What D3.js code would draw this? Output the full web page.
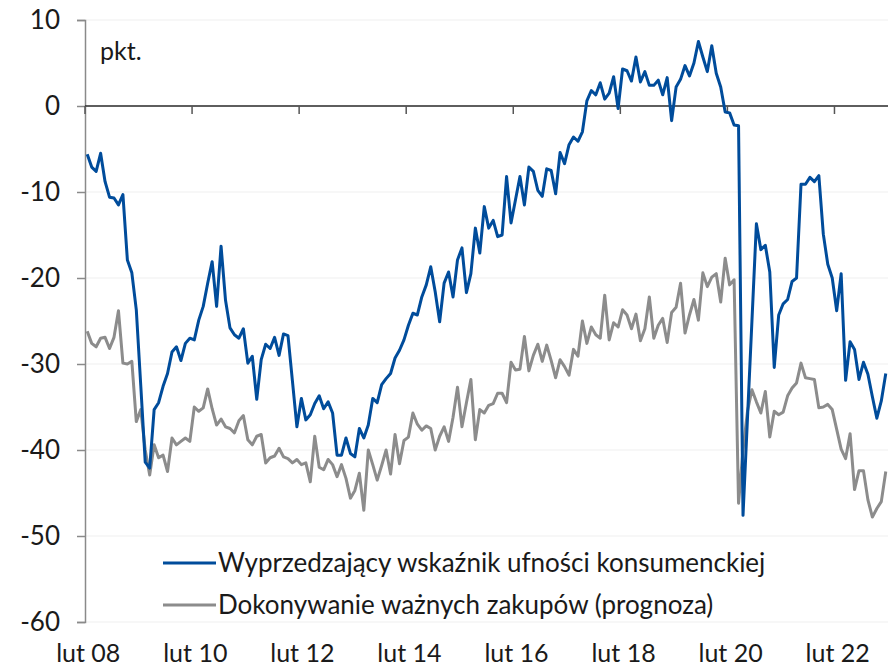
<!DOCTYPE html>
<html><head><meta charset="utf-8">
<script src="https://cdn.jsdelivr.net/npm/d3@7"></script>
<style>html,body{margin:0;padding:0;background:#fff;}svg{display:block;}</style>
</head><body>
<svg id="chart" width="890" height="668"></svg>
<script>
// ---- data ----
const startMonth = "2008-02", endMonth = "2023-01";
const seriesNames = ["Wyprzedzający wskaźnik ufności konsumenckiej", "Dokonywanie ważnych zakupów (prognoza)"];
const bwuk = [
-5.6,-7.1,-7.6,-5.5,-8.8,-10.6,-10.7,-11.5,-10.3,-17.9,-19.4,-23.7,-32.5,-41.4,-42.1,-35.3,-34.5,-32.6,-31.1,-28.6,
-28.0,-29.6,-27.6,-27.0,-27.2,-24.9,-23.3,-20.6,-18.1,-23.3,-16.3,-22.6,-25.8,-26.6,-27.0,-25.9,-29.9,-29.1,-34.1,-29.5,
-27.7,-28.2,-26.9,-29.0,-26.5,-26.7,-32.0,-37.3,-34.0,-36.5,-35.9,-34.6,-33.7,-35.2,-34.4,-35.7,-40.6,-40.6,-38.6,-40.4,
-40.8,-37.5,-38.6,-37.1,-34.0,-34.5,-32.4,-31.7,-31.1,-29.3,-28.4,-27.2,-25.5,-24.1,-24.3,-22.2,-20.8,-18.7,-21.6,-25.1,
-20.6,-19.3,-22.2,-17.9,-16.5,-21.7,-19.5,-14.2,-17.1,-11.7,-14.2,-13.3,-15.2,-15.0,-8.2,-13.6,-10.9,-8.2,-11.5,-7.1,
-7.6,-9.8,-10.5,-7.3,-7.5,-10.2,-5.4,-6.7,-4.5,-3.6,-4.1,-3.0,0.6,1.8,1.3,2.7,0.8,1.5,3.4,-0.3,
4.3,4.1,2.9,5.7,2.8,4.0,2.4,2.4,3.0,1.3,3.3,-1.7,2.2,3.1,4.7,3.5,5.0,7.5,5.7,4.0,
7.0,3.8,2.2,-0.7,-0.8,-2.2,-2.3,-47.6,-36.3,-25.0,-13.7,-16.7,-16.2,-19.3,-30.4,-24.3,-23.0,-22.5,-20.4,-20.0,
-9.1,-9.1,-8.3,-8.8,-8.1,-14.9,-18.4,-20.0,-23.8,-19.5,-31.9,-27.4,-28.3,-31.8,-29.8,-31.2,-33.8,-36.3,-34.3,-31.1
];
const zakupy = [
-26.2,-27.6,-28.0,-27.0,-26.9,-28.2,-26.9,-23.8,-29.9,-30.0,-29.7,-36.7,-35.3,-40.0,-42.9,-39.4,-40.9,-40.6,-42.5,-38.6,
-39.4,-39.0,-38.6,-39.0,-35.0,-35.5,-35.1,-32.9,-35.2,-37.1,-36.4,-37.3,-37.5,-38.0,-36.6,-36.0,-38.8,-39.4,-38.4,-38.2,
-41.5,-40.9,-40.7,-39.8,-40.8,-41.0,-41.5,-41.1,-41.7,-41.5,-43.7,-38.4,-42.0,-42.3,-41.1,-41.7,-43.1,-41.7,-43.3,-45.6,
-44.7,-42.7,-47.0,-40.0,-41.7,-43.5,-41.8,-40.0,-42.8,-38.2,-41.6,-38.9,-38.5,-35.7,-37.0,-37.7,-37.2,-37.5,-40.0,-38.4,
-37.3,-39.0,-36.2,-32.7,-37.3,-34.5,-31.8,-38.8,-35.3,-35.7,-34.8,-34.6,-33.4,-33.4,-34.5,-29.8,-30.7,-30.6,-26.8,-30.8,
-29.0,-27.7,-29.7,-27.8,-29.6,-31.6,-29.5,-30.3,-31.3,-28.3,-29.1,-25.0,-27.6,-25.7,-26.6,-27.0,-22.0,-27.2,-25.2,-25.7,
-23.7,-24.3,-25.9,-24.2,-27.3,-25.9,-22.2,-27.0,-25.5,-24.7,-27.5,-24.0,-23.4,-20.6,-26.4,-24.3,-22.5,-24.9,-19.4,-21.0,
-19.9,-19.5,-22.8,-17.7,-20.8,-20.2,-46.2,-40.0,-35.5,-33.0,-34.4,-35.7,-33.2,-38.5,-35.5,-35.9,-35.6,-33.7,-32.8,-32.2,
-29.9,-31.6,-31.7,-31.8,-35.1,-35.0,-34.7,-35.3,-37.6,-39.9,-41.0,-38.1,-44.6,-42.4,-42.4,-45.8,-47.8,-46.8,-46.0,-42.5
];
const yTicks = [10, 0, -10, -20, -30, -40, -50, -60];
const tickMonths = ["2008-02","2010-02","2012-02","2014-02","2016-02","2018-02","2020-02","2022-02"];
const tickLabels = ["lut 08","lut 10","lut 12","lut 14","lut 16","lut 18","lut 20","lut 22"];
const unitLabel = "pkt.";

// ---- chart ----
const parse = d3.timeParse("%Y-%m"), fmt = d3.timeFormat("%Y-%m");
const months = d3.timeMonth.range(parse(startMonth), d3.timeMonth.offset(parse(endMonth), 1)).map(fmt);
const FONT = "Lato, 'DejaVu Sans', sans-serif";
const svg = d3.select("#chart");
const L = 85, R = 888, T = 20, B = 622;
const x = d3.scaleBand().domain(months).range([L, R]).padding(0);
const y = d3.scaleLinear().domain([-60, 10]).range([B, T]);
const cx = m => x(m) + x.bandwidth() / 2;

// gridlines
svg.append("g").selectAll("line").data(yTicks).join("line")
  .attr("x1", L).attr("x2", R).attr("y1", d => y(d)).attr("y2", d => y(d))
  .attr("stroke", "#efefef").attr("stroke-width", 1);

// y axis
const yAxis = svg.append("g").attr("transform", `translate(${L},0)`)
  .call(d3.axisLeft(y).tickValues(yTicks).tickSize(8).tickPadding(17).tickFormat(d => d));
yAxis.select(".domain").attr("stroke", "#8a8a8a").attr("stroke-width", 1.5);
yAxis.selectAll(".tick line").attr("stroke", "#8a8a8a").attr("stroke-width", 1.5);
yAxis.selectAll(".tick text").attr("font-family", FONT).attr("font-size", 26).attr("fill", "#1a1a1a");

// zero axis with ticks
const zeroY = y(0);
svg.append("line").attr("x1", L).attr("x2", R).attr("y1", zeroY).attr("y2", zeroY)
  .attr("stroke", "#2b2b2b").attr("stroke-width", 1.5);
svg.append("g").selectAll("line").data(tickMonths).join("line")
  .attr("x1", d => x(d)).attr("x2", d => x(d)).attr("y1", zeroY).attr("y2", zeroY + 8)
  .attr("stroke", "#555").attr("stroke-width", 1.5);

// x labels
svg.append("g").selectAll("text").data(tickMonths).join("text")
  .attr("x", d => cx(d) + 1).attr("y", 662).attr("text-anchor", "middle")
  .attr("font-family", FONT).attr("font-size", 25).attr("fill", "#1a1a1a")
  .text((d, i) => tickLabels[i]);

// lines
const line = arr => d3.line().x((d, i) => cx(months[i])).y(d => y(d))(arr);
svg.append("path").attr("d", line(zakupy)).attr("fill", "none").attr("stroke", "#8c8c8c")
  .attr("stroke-width", 3).attr("stroke-linejoin", "round");
svg.append("path").attr("d", line(bwuk)).attr("fill", "none").attr("stroke", "#004c9b")
  .attr("stroke-width", 3).attr("stroke-linejoin", "round");

// unit label
svg.append("text").attr("x", 100).attr("y", 60).attr("font-family", FONT).attr("font-size", 25)
  .attr("fill", "#1a1a1a").text(unitLabel);

// legend
const legColors = ["#004c9b", "#8c8c8c"];
const leg = svg.append("g");
seriesNames.forEach((n, i) => {
  const ly = 563 + i * 42;
  leg.append("line").attr("x1", 163).attr("x2", 216).attr("y1", ly).attr("y2", ly)
    .attr("stroke", legColors[i]).attr("stroke-width", 3);
  leg.append("text").attr("x", 218).attr("y", ly + 9).attr("font-family", FONT).attr("font-size", 26)
    .attr("fill", "#1a1a1a").text(n);
});
</script>
</body></html>
